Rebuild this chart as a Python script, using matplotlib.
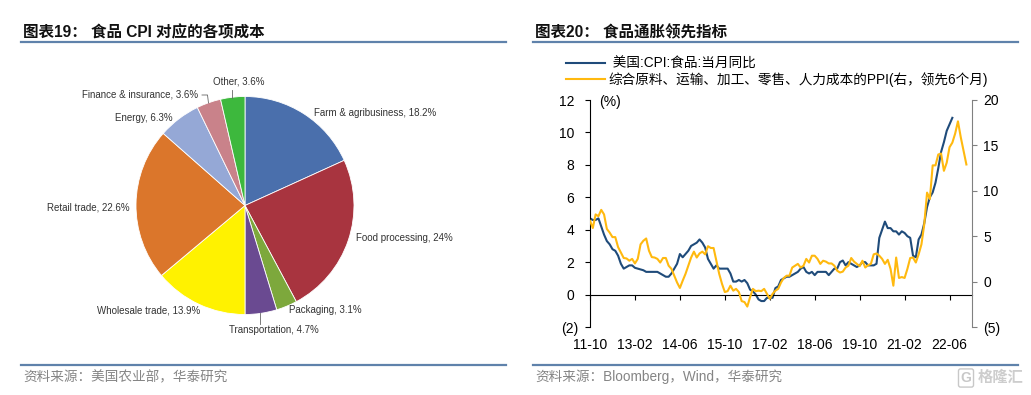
import matplotlib
matplotlib.use('Agg')
import matplotlib.pyplot as plt
from matplotlib.lines import Line2D
from matplotlib.transforms import ScaledTranslation

plt.rcParams['font.family'] = ['Liberation Sans', 'Noto Sans CJK SC']

# pie data, clockwise from the top
pie_labels = ['Farm & agribusiness', 'Food processing', 'Packaging', 'Transportation',
              'Wholesale trade', 'Retail trade', 'Energy', 'Finance & insurance', 'Other']
pie_values = [18.2, 24, 3.1, 4.7, 13.9, 22.6, 6.3, 3.6, 3.6]
pie_text = ['18.2%', '24%', '3.1%', '4.7%', '13.9%', '22.6%', '6.3%', '3.6%', '3.6%']
pie_colors = ['#4A6FAC', '#A8343F', '#7DA83C', '#6A4A91', '#FFF200',
              '#DB762B', '#95A8D6', '#C9828A', '#3DB83D']

# monthly, starting 11-10
cpi_food = [4.7, 4.6, 4.6, 4.7, 4.2, 3.7, 3.3, 3.1, 2.8, 2.7, 2.4, 1.9, 1.6, 1.7, 1.8, 1.8,
            1.65, 1.6, 1.55, 1.5, 1.4, 1.4, 1.4, 1.4, 1.4, 1.3, 1.2, 1.1, 1.1, 1.3, 1.6, 1.9,
            2.5, 2.3, 2.5, 2.7, 3.0, 3.1, 3.2, 3.4, 3.2, 2.9, 2.2, 1.9, 1.6, 1.8, 1.6, 1.6,
            1.6, 1.6, 1.3, 0.8, 0.8, 0.9, 0.8, 0.9, 0.7, 0.3, 0.2, 0.0, -0.3, -0.4, -0.4, -0.2,
            -0.2, -0.2, 0.4, 0.5, 0.9, 1.0, 1.1, 1.1, 1.2, 1.3, 1.4, 1.6, 1.7, 1.4, 1.3, 1.4,
            1.2, 1.4, 1.4, 1.4, 1.4, 1.2, 1.4, 1.6, 1.6, 2.0, 2.1, 1.8, 2.0, 1.9, 1.8, 1.7,
            1.8, 2.0, 2.0, 1.8, 1.8, 1.8, 1.9, 3.5, 4.0, 4.5, 4.1, 4.1, 3.9, 3.9, 3.7, 3.9,
            3.8, 3.6, 3.5, 2.4, 2.3, 3.4, 3.7, 4.4, 5.4, 6.0, 6.3, 6.9, 7.8, 8.8, 9.4, 10.1,
            10.5, 10.9]
ppi_cost = [6.7, 5.9, 7.4, 7.2, 7.9, 7.4, 5.8, 5.4, 4.9, 4.9, 3.8, 3.2, 2.6, 2.55, 2.3, 2.5,
            2.0, 2.5, 4.1, 4.5, 4.75, 3.4, 2.7, 2.65, 2.5, 2.1, 2.6, 2.6, 1.75, 1.4, 0.65, -0.1,
            -0.7, 0.1, 0.85, 1.75, 2.65, 3.3, 2.65, 3.1, 3.3, 3.0, 3.9, 3.7, 3.7, 2.3, 0.85, -0.25,
            -1.15, -1.05, -0.45, -1.0, -0.8, -1.15, -2.15, -2.25, -2.75, -1.7, -0.8, -1.05, -1.0, -1.05, -0.8, -1.35,
            -1.9, -1.35, -1.0, -0.8, -0.1, 0.4, 0.65, 0.65, 1.55, 1.75, 1.95, 1.55, 1.75, 2.5, 2.1, 2.85,
            2.85, 2.5, 1.95, 2.3, 2.2, 2.0, 2.0, 1.75, 1.2, 1.0, 1.1, 1.55, 1.75, 2.6, 2.2, 1.95,
            1.7, 2.3, 1.55, 1.8, 1.95, 3.0, 3.1, 2.85, 2.5, 1.95, 2.4, 1.4, -0.45, 2.65, 0.4, 0.5,
            0.4, 1.4, 2.6, 2.65, 2.1, 3.0, 4.1, 6.3, 9.8, 9.1, 12.8, 12.8, 14.0, 14.1, 12.2, 13.1,
            14.8, 15.3, 16.3, 17.65, 15.9, 14.4, 12.9]
x_ticks = [0, 16, 32, 48, 64, 80, 96, 112, 128]
x_tick_labels = ['11-10', '13-02', '14-06', '15-10', '17-02', '18-06', '19-10', '21-02', '22-06']
y_left = [-2, 0, 2, 4, 6, 8, 10, 12]
y_left_labels = ['(2)', '0', '2', '4', '6', '8', '10', '12']
y_right = [-5, 0, 5, 10, 15, 20]
y_right_labels = ['(5)', '0', '5', '10', '15', '20']

W, H = 1031, 395
fig = plt.figure(figsize=(W / 100, H / 100), dpi=100)


def fx(x):
    return x / W


def fy(y):
    return 1 - y / H


def box(left, top, right, bottom):
    return [fx(left), fy(bottom), (right - left) / W, (bottom - top) / H]


# header and footer rules
rule = '#5F82AB'
for x0, x1 in [(21, 506), (533, 1018)]:
    for y in [42, 365]:
        fig.add_artist(Line2D([fx(x0), fx(x1)], [fy(y), fy(y)], color=rule, lw=1.6))

fig.text(fx(23), fy(37), '图表19： 食品 CPI 对应的各项成本', fontsize=11.2, fontweight='bold',
         color='#111111', va='baseline')
fig.text(fx(535), fy(37), '图表20： 食品通胀领先指标', fontsize=11.2, fontweight='bold',
         color='#111111', va='baseline')
fig.text(fx(23), fy(377), '资料来源：美国农业部，华泰研究', fontsize=9.8, color='#858585', va='center')
fig.text(fx(535), fy(377), '资料来源：Bloomberg，Wind，华泰研究', fontsize=9.8, color='#858585', va='center')

# left panel: pie
ax_pie = fig.add_axes(box(136, 96.5, 354, 314.5))
ax_pie.pie(pie_values, colors=pie_colors, startangle=90, counterclock=False, radius=1,
           wedgeprops={'edgecolor': 'white', 'linewidth': 0.6})
ax_pie.set_xlim(-1, 1)
ax_pie.set_ylim(-1, 1)

label_pos = [(314, 112.7), (355.7, 237.7), (289, 310), (229, 330), (97, 310.5),
             (47, 207), (114.7, 117.7), (82, 94.7), (213, 81.7)]
for name, txt, (lx, ly) in zip(pie_labels, pie_text, label_pos):
    fig.text(fx(lx), fy(ly), name + ', ' + txt, fontsize=7.0, color='#333333', va='center')

for xs, ys in [([232.3, 232.3], [90, 98]), ([260, 260], [313, 324]),
               ([202, 207.5, 208.5], [95, 95, 103])]:
    fig.add_artist(Line2D([fx(v) for v in xs], [fy(v) for v in ys], color='#666666', lw=0.6))

# right panel: two axes
ax = fig.add_axes(box(590, 100, 972, 327))
ax.plot(range(len(cpi_food)), cpi_food, color='#1F4B7A', lw=1.5, label=' 美国:CPI:食品:当月同比')
ax.set_xlim(0, 136)
ax.set_ylim(-2, 12)
ax.set_xticks(x_ticks)
ax.set_xticklabels(x_tick_labels)
ax.set_yticks(y_left)
ax.set_yticklabels(y_left_labels)
ax.spines['top'].set_visible(False)
ax.spines['right'].set_visible(False)
ax.spines['bottom'].set_position(('data', 0))
ax.tick_params(axis='x', length=3.5, width=0.8, pad=28, labelsize=10, colors='black')
ax.tick_params(axis='y', length=3.5, width=0.8, pad=8, labelsize=10)
# the bracketed label sits further right than the others
lab = ax.get_yticklabels()[0]
lab.set_transform(lab.get_transform() + ScaledTranslation(3 / 72, 0, fig.dpi_scale_trans))
ax.text(fx(599), fy(102), '(%)', transform=fig.transFigure, fontsize=10, va='center')

ax2 = ax.twinx()
ax2.plot(range(len(ppi_cost)), ppi_cost, color='#FFB90F', lw=1.5,
         label='综合原料、运输、加工、零售、人力成本的PPI(右，领先6个月)')
ax2.set_ylim(-5, 20)
ax2.set_yticks(y_right)
ax2.set_yticklabels(y_right_labels)
for s in ['top', 'left', 'bottom']:
    ax2.spines[s].set_visible(False)
ax2.spines['right'].set_color('#808080')
ax2.tick_params(axis='y', length=3.5, width=0.8, color='#808080', pad=4.5, labelsize=10)

h1, l1 = ax.get_legend_handles_labels()
h2, l2 = ax2.get_legend_handles_labels()
ax2.legend(h1 + h2, l1 + l2, loc='upper left', bbox_to_anchor=(fx(566), fy(56.5)),
           bbox_transform=fig.transFigure, frameon=False, fontsize=9.8, borderpad=0,
           borderaxespad=0, handlelength=2.9, handletextpad=0.25, labelspacing=0.12)

# source watermark
fig.text(fx(978), fy(378), '格隆汇', fontsize=11, fontweight='bold', color='#C8C8C8',
         va='center', alpha=0.9)
fig.text(fx(966), fy(378), 'G', fontsize=10, fontweight='bold', color='#C8C8C8', va='center', ha='center',
         bbox=dict(boxstyle='round,pad=0.15', fc='none', ec='#C8C8C8', lw=1))

fig.savefig('out.png', dpi=100)
